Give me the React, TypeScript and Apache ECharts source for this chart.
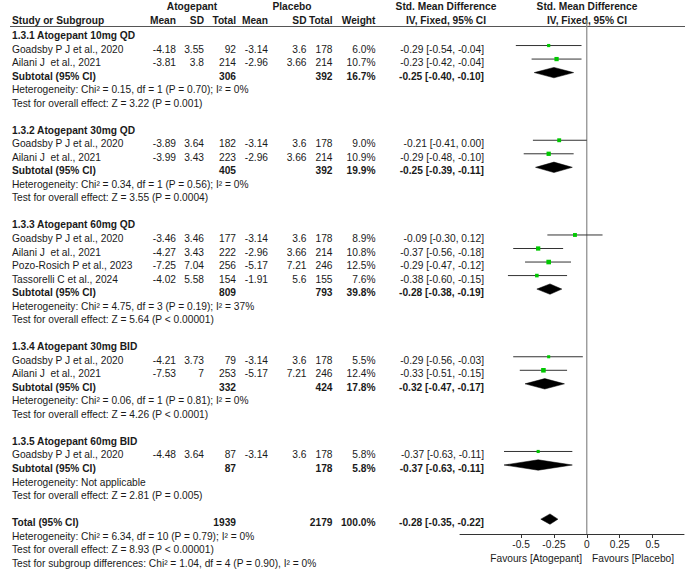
import React, { useEffect, useRef } from "react";
import * as echarts from "echarts";

// ---------- data ----------
const groupTitles = [
  "1.3.1 Atogepant 10mg QD",
  "1.3.2 Atogepant 30mg QD",
  "1.3.3 Atogepant 60mg QD",
  "1.3.4 Atogepant 30mg BID",
  "1.3.5 Atogepant 60mg BID",
];
const studyNames = [
  "Goadsby P J et al., 2020",
  "Ailani J  et al., 2021",
  "Goadsby P J et al., 2020",
  "Ailani J  et al., 2021",
  "Goadsby P J et al., 2020",
  "Ailani J  et al., 2021",
  "Pozo-Rosich P et al., 2023",
  "Tassorelli C et al., 2024",
  "Goadsby P J et al., 2020",
  "Ailani J  et al., 2021",
  "Goadsby P J et al., 2020",
];
const studyGroup = [0, 0, 1, 1, 2, 2, 2, 2, 3, 3, 4];
const atoMean = [-4.18, -3.81, -3.89, -3.99, -3.46, -4.27, -7.25, -4.02, -4.21, -7.53, -4.48];
const atoSD = [3.55, 3.8, 3.64, 3.43, 3.46, 3.43, 7.04, 5.58, 3.73, 7, 3.64];
const atoTotal = [92, 214, 182, 223, 177, 222, 256, 154, 79, 253, 87];
const plcMean = [-3.14, -2.96, -3.14, -2.96, -3.14, -2.96, -5.17, -1.91, -3.14, -5.17, -3.14];
const plcSD = [3.6, 3.66, 3.6, 3.66, 3.6, 3.66, 7.21, 5.6, 3.6, 7.21, 3.6];
const plcTotal = [178, 214, 178, 214, 178, 214, 246, 155, 178, 246, 178];
const studyWeight = [6.0, 10.7, 9.0, 10.9, 8.9, 10.8, 12.5, 7.6, 5.5, 12.4, 5.8];
const studySmd = [-0.29, -0.23, -0.21, -0.29, -0.09, -0.37, -0.29, -0.38, -0.29, -0.33, -0.37];
const studyLo = [-0.54, -0.42, -0.41, -0.48, -0.3, -0.56, -0.47, -0.6, -0.56, -0.51, -0.63];
const studyHi = [-0.04, -0.04, 0.0, -0.1, 0.12, -0.18, -0.12, -0.15, -0.03, -0.15, -0.11];

const subAtoTotal = [306, 405, 809, 332, 87];
const subPlcTotal = [392, 392, 793, 424, 178];
const subWeight = [16.7, 19.9, 39.8, 17.8, 5.8];
const subSmd = [-0.25, -0.25, -0.28, -0.32, -0.37];
const subLo = [-0.4, -0.39, -0.38, -0.47, -0.63];
const subHi = [-0.1, -0.11, -0.19, -0.17, -0.11];
const subHet = [
  "Heterogeneity: Chi² = 0.15, df = 1 (P = 0.70); I² = 0%",
  "Heterogeneity: Chi² = 0.34, df = 1 (P = 0.56); I² = 0%",
  "Heterogeneity: Chi² = 4.75, df = 3 (P = 0.19); I² = 37%",
  "Heterogeneity: Chi² = 0.06, df = 1 (P = 0.81); I² = 0%",
  "Heterogeneity: Not applicable",
];
const subTest = [
  "Test for overall effect: Z = 3.22 (P = 0.001)",
  "Test for overall effect: Z = 3.55 (P = 0.0004)",
  "Test for overall effect: Z = 5.64 (P < 0.00001)",
  "Test for overall effect: Z = 4.26 (P < 0.0001)",
  "Test for overall effect: Z = 2.81 (P = 0.005)",
];

const totalLabel = "Total (95% CI)";
const totalAto = 1939;
const totalPlc = 2179;
const totalWeight = 100.0;
const totalSmd = -0.28;
const totalLo = -0.35;
const totalHi = -0.22;
const totalNotes = [
  "Heterogeneity: Chi² = 6.34, df = 10 (P = 0.79); I² = 0%",
  "Test for overall effect: Z = 8.93 (P < 0.00001)",
  "Test for subgroup differences: Chi² = 1.04, df = 4 (P = 0.90), I² = 0%",
];

const tickValues = [-0.5, -0.25, 0, 0.25, 0.5];
const tickLabels = ["-0.5", "-0.25", "0", "0.25", "0.5"];

// ---------- layout / style ----------
const FF = "'Liberation Sans', Arial, sans-serif";
const FS = 10.2;
const TXT = "#1a1a1a";
const X_MIN = -0.965;
const X_MAX = 0.74;
const Y_MIN = -1.146;
const Y_MAX = 36.84;
const MARK_OFF = 3.5;

const COL = {
  name: 12,
  atoMean: 176,
  atoSD: 204,
  atoTotal: 236,
  plcMean: 268,
  plcSD: 306.5,
  plcTotal: 332.5,
  weight: 375.5,
  ci: 484,
};

// ---------- rows ----------
type Row = { r: number; kind: string; idx?: number; text?: string };
const rows: Row[] = [];
{
  let r = 0;
  for (let g = 0; g < groupTitles.length; g++) {
    rows.push({ r: r++, kind: "title", text: groupTitles[g] });
    for (let s = 0; s < studyNames.length; s++) {
      if (studyGroup[s] === g) rows.push({ r: r++, kind: "study", idx: s });
    }
    rows.push({ r: r++, kind: "subtotal", idx: g });
    rows.push({ r: r++, kind: "note", text: subHet[g] });
    rows.push({ r: r++, kind: "note", text: subTest[g] });
    r++;
  }
  rows.push({ r: r++, kind: "total" });
  for (const t of totalNotes) rows.push({ r: r++, kind: "note", text: t });
}

const f2 = (v: number) => v.toFixed(2);
const ciText = (m: number, lo: number, hi: number) => `${f2(m)} [${f2(lo)}, ${f2(hi)}]`;

export default function App() {
  const ref = useRef<HTMLDivElement>(null);
  useEffect(() => {
    if (!ref.current) return;
    document.body.style.margin = "0";
    const chart = echarts.init(ref.current, null, { renderer: "svg" });

    const textEl = (text: string, x: number, y: number, align: string, bold = false) => ({
      type: "text",
      x,
      y,
      style: {
        text,
        fill: TXT,
        fontSize: FS,
        fontFamily: FF,
        fontWeight: bold ? "bold" : "normal",
        align,
        verticalAlign: "middle",
      },
    });

    const tableRender = (params: any, api: any) => {
      const row = rows[params.dataIndex];
      const y = api.coord([0, row.r])[1];
      const ch: any[] = [];
      if (row.kind === "title") {
        ch.push(textEl(row.text!, COL.name, y, "left", true));
      } else if (row.kind === "note") {
        ch.push(textEl(row.text!, COL.name, y, "left"));
      } else if (row.kind === "study") {
        const s = row.idx!;
        ch.push(textEl(studyNames[s], COL.name, y, "left"));
        ch.push(textEl(String(atoMean[s]), COL.atoMean, y, "right"));
        ch.push(textEl(String(atoSD[s]), COL.atoSD, y, "right"));
        ch.push(textEl(String(atoTotal[s]), COL.atoTotal, y, "right"));
        ch.push(textEl(String(plcMean[s]), COL.plcMean, y, "right"));
        ch.push(textEl(String(plcSD[s]), COL.plcSD, y, "right"));
        ch.push(textEl(String(plcTotal[s]), COL.plcTotal, y, "right"));
        ch.push(textEl(studyWeight[s].toFixed(1) + "%", COL.weight, y, "right"));
        ch.push(textEl(ciText(studySmd[s], studyLo[s], studyHi[s]), COL.ci, y, "right"));
      } else if (row.kind === "subtotal") {
        const g = row.idx!;
        ch.push(textEl("Subtotal (95% CI)", COL.name, y, "left", true));
        ch.push(textEl(String(subAtoTotal[g]), COL.atoTotal, y, "right", true));
        ch.push(textEl(String(subPlcTotal[g]), COL.plcTotal, y, "right", true));
        ch.push(textEl(subWeight[g].toFixed(1) + "%", COL.weight, y, "right", true));
        ch.push(textEl(ciText(subSmd[g], subLo[g], subHi[g]), COL.ci, y, "right", true));
      } else if (row.kind === "total") {
        ch.push(textEl(totalLabel, COL.name, y, "left", true));
        ch.push(textEl(String(totalAto), COL.atoTotal, y, "right", true));
        ch.push(textEl(String(totalPlc), COL.plcTotal, y, "right", true));
        ch.push(textEl(totalWeight.toFixed(1) + "%", COL.weight, y, "right", true));
        ch.push(textEl(ciText(totalSmd, totalLo, totalHi), COL.ci, y, "right", true));
      }
      return { type: "group", children: ch };
    };

    const diamond = (api: any, m: number, lo: number, hi: number, r: number) => {
      const y = api.coord([m, r])[1] - MARK_OFF;
      const xm = api.coord([m, r])[0];
      const xl = api.coord([lo, r])[0];
      const xh = api.coord([hi, r])[0];
      const h = 5.2;
      return {
        type: "polygon",
        shape: { points: [[xl, y], [xm, y - h], [xh, y], [xm, y + h]] },
        style: { fill: "#000", stroke: "#000", lineWidth: 0.5 },
      };
    };

    const markRender = (params: any, api: any) => {
      const row = rows[params.dataIndex];
      if (row.kind === "study") {
        const s = row.idx!;
        const y = api.coord([0, row.r])[1] - MARK_OFF;
        const xl = api.coord([studyLo[s], row.r])[0];
        const xh = api.coord([studyHi[s], row.r])[0];
        const xm = api.coord([studySmd[s], row.r])[0];
        const sz = Math.sqrt(studyWeight[s]) * 1.3;
        return {
          type: "group",
          children: [
            { type: "line", shape: { x1: xl, y1: y, x2: xh, y2: y }, style: { stroke: "#333", lineWidth: 1 } },
            { type: "rect", shape: { x: xm - sz / 2, y: y - sz / 2, width: sz, height: sz }, style: { fill: "#00c800" } },
          ],
        };
      }
      if (row.kind === "subtotal") {
        const g = row.idx!;
        return diamond(api, subSmd[g], subLo[g], subHi[g], row.r);
      }
      if (row.kind === "total") {
        return diamond(api, totalSmd, totalLo, totalHi, row.r);
      }
      return null;
    };

    const hdr = (text: string, x: number, y: number, align: string) => ({
      type: "text",
      x,
      y,
      style: { text, fill: TXT, fontSize: FS, fontFamily: FF, fontWeight: "bold", align, verticalAlign: "middle" },
    });

    const option: any = {
      animation: false,
      grid: { left: 460, right: 1, top: 20, bottom: 39, containLabel: false },
      xAxis: {
        type: "value",
        min: X_MIN,
        max: X_MAX,
        axisLine: { show: true, onZero: false, lineStyle: { color: "#333", width: 1 } },
        axisTick: { show: true, customValues: tickValues, length: 4, lineStyle: { color: "#333" } },
        axisLabel: {
          show: true,
          customValues: tickValues,
          formatter: (v: number) => {
            const i = tickValues.findIndex((t) => Math.abs(t - v) < 1e-9);
            return i >= 0 ? tickLabels[i] : "";
          },
          margin: 5,
          fontSize: FS,
          fontFamily: FF,
          color: TXT,
        },
        splitLine: { show: false },
      },
      yAxis: { type: "value", inverse: true, min: Y_MIN, max: Y_MAX, show: false },
      graphic: [
        hdr("Atogepant", 192, 6.5, "center"),
        hdr("Placebo", 292, 6.5, "center"),
        hdr("Std. Mean Difference", 446, 6.5, "center"),
        hdr("Std. Mean Difference", 587, 6.5, "center"),
        hdr("Study or Subgroup", COL.name, 20.5, "left"),
        hdr("Mean", COL.atoMean, 20.5, "right"),
        hdr("SD", COL.atoSD, 20.5, "right"),
        hdr("Total", COL.atoTotal, 20.5, "right"),
        hdr("Mean", COL.plcMean, 20.5, "right"),
        hdr("SD", COL.plcSD, 20.5, "right"),
        hdr("Total", COL.plcTotal, 20.5, "right"),
        hdr("Weight", COL.weight, 20.5, "right"),
        hdr("IV, Fixed, 95% CI", 446, 20.5, "center"),
        hdr("IV, Fixed, 95% CI", 587, 20.5, "center"),
        {
          type: "line",
          shape: { x1: 10, y1: 26.5, x2: 685, y2: 26.5 },
          style: { stroke: "#555", lineWidth: 1 },
        },
        {
          type: "text",
          x: 582,
          y: 558,
          style: { text: "Favours [Atogepant]", fill: TXT, fontSize: FS, fontFamily: FF, align: "right", verticalAlign: "middle" },
        },
        {
          type: "text",
          x: 592,
          y: 558,
          style: { text: "Favours [Placebo]", fill: TXT, fontSize: FS, fontFamily: FF, align: "left", verticalAlign: "middle" },
        },
      ],
      series: [
        {
          type: "custom",
          name: "zero",
          clip: false,
          silent: true,
          data: [[0, Y_MIN]],
          renderItem: (params: any, api: any) => {
            const p1 = api.coord([0, Y_MIN]);
            const p2 = api.coord([0, Y_MAX]);
            return {
              type: "line",
              shape: { x1: p1[0], y1: p1[1], x2: p2[0], y2: p2[1] },
              style: { stroke: "#888", lineWidth: 1.2 },
            };
          },
        },
        {
          type: "custom",
          name: "table",
          clip: false,
          silent: true,
          data: rows.map((row) => [0, row.r]),
          renderItem: tableRender,
        },
        {
          type: "custom",
          name: "marks",
          clip: false,
          silent: true,
          data: rows.map((row) => [0, row.r]),
          renderItem: markRender,
        },
      ],
    };
    chart.setOption(option);
    return () => chart.dispose();
  }, []);
  return <div ref={ref} style={{ width: 685, height: 573 }} />;
}
